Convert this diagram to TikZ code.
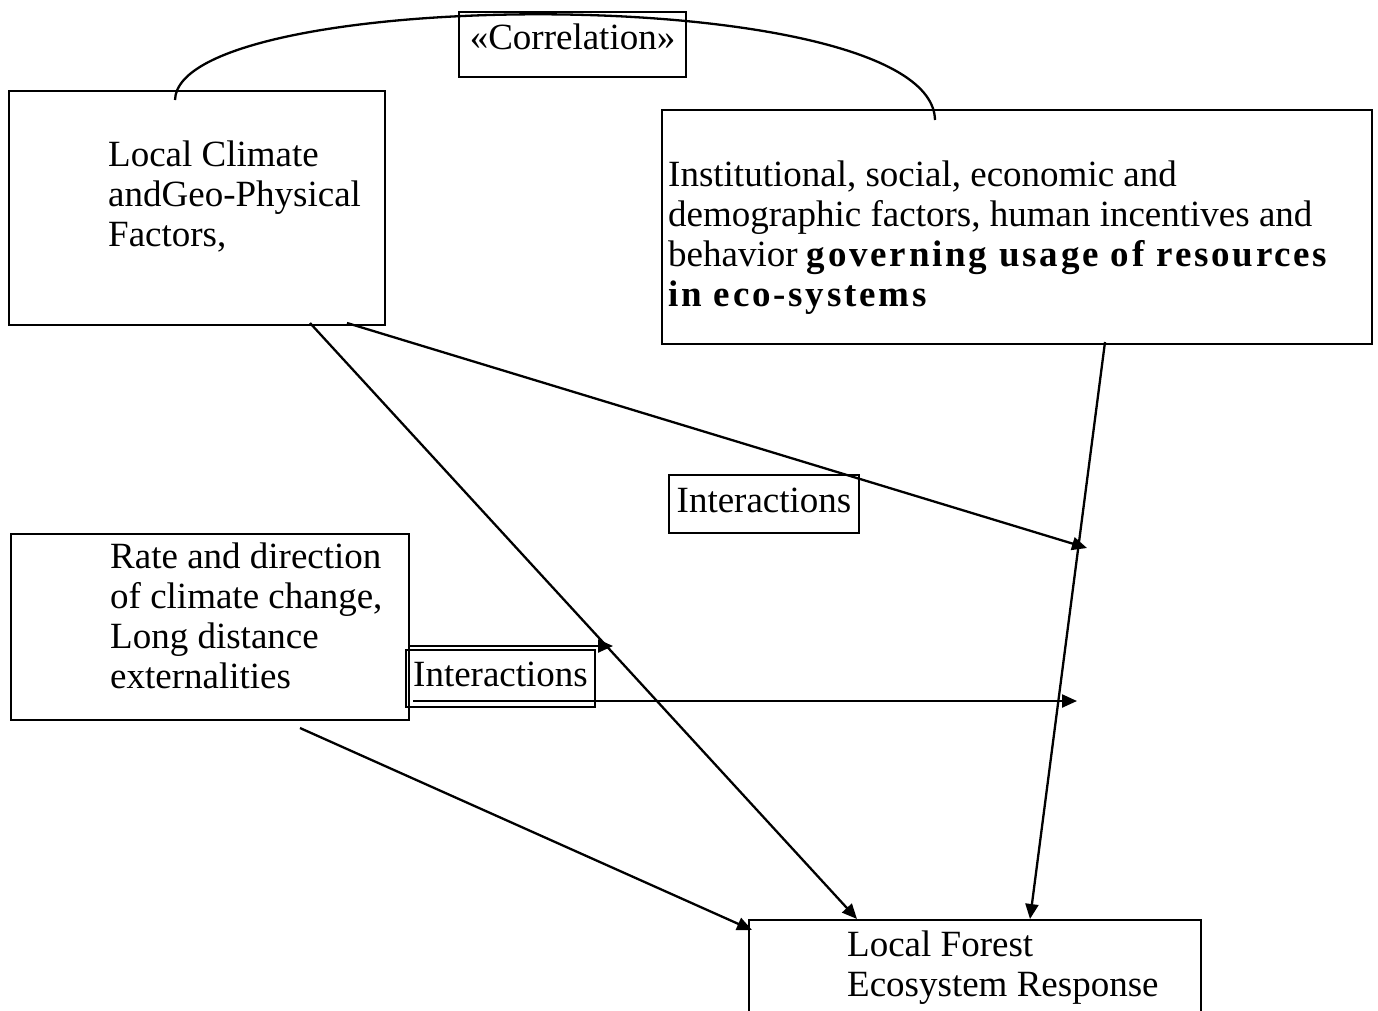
\documentclass[tikz,border=0pt]{standalone}
\usepackage{fontspec}
\setmainfont{Liberation Serif}
\usetikzlibrary{arrows.meta,calc}
\begin{document}
\begin{tikzpicture}[x=1pt,y=-1pt]
\tikzset{
 frame/.style={draw,line width=2.3pt,inner sep=0pt,outer sep=0pt},
 txt/.style={font=\fontsize{37}{40}\selectfont, align=left, inner sep=0pt, anchor=north west},
 lbl/.style={frame, font=\fontsize{37}{40}\selectfont, text height=26pt, text depth=10pt},
 conn/.style={line width=2.3pt, -{Triangle[length=15pt,width=13pt]}},
 link/.style={line width=2.3pt}
}
\clip (0,0) rectangle (1378,1010);
\fill[white] (0,0) rectangle (1378,1010);
% boxes
\node[frame, minimum width=376pt, minimum height=234pt] (clim) at (197,208) {};
\node[frame, minimum width=710pt, minimum height=234pt] (inst) at (1017,227) {};
\node[frame, minimum width=398pt, minimum height=186pt] (rate) at (210,627) {};
\node[frame, minimum width=452pt, minimum height=160pt] (forest) at (975,1000) {};
\node[lbl, minimum width=227pt, minimum height=65pt, text height=25pt, text depth=16pt] (corr) at (572.5,44.5) {«Correlation»};
\node[lbl, minimum width=190pt, minimum height=58pt] (int1) at (764,504) {Interactions};
\node[lbl, minimum width=189pt, minimum height=57pt] (int2) at (500.5,678.5) {Interactions};
% texts
\node[txt] (climtext) at (108,138) {\strut Local Climate\\\strut andGeo-Physical\\\strut Factors,};
\node[txt] (insttext) at (668,158) {\strut Institutional, social, economic and\\\strut demographic factors, human incentives and\\\strut behavior {\bfseries\addfontfeature{LetterSpace=7.5}governing usage of resources}\\\strut{\bfseries\addfontfeature{LetterSpace=7.5}in eco-systems}};
\node[txt] (ratetext) at (110,540) {\strut Rate and direction\\\strut of climate change,\\\strut Long distance\\\strut externalities};
\node[txt] (foresttext) at (847,928) {\strut Local Forest\\\strut Ecosystem Response};
% free ends
\coordinate (bEnd) at (1087,548);
\coordinate (eEnd) at (613,646);
\coordinate (fEnd) at (1077,701);
% connectors
\draw[link] ($(clim.north west)+(166,9)$) .. controls +(3,-115) and +(-3,-140) .. ($(inst.north west)+(273,10)$);
\draw[conn] ($(clim.south west)+(301,-2)$) -- ($(forest.north west)+(108,-1)$);
\draw[conn] ($(clim.south west)+(338,-2)$) -- (bEnd);
\draw[conn] ($(inst.south west)+(443,-2)$) -- ($(forest.north west)+(281,-1)$);
\draw[conn] ($(rate.south west)+(289,8)$) -- ($(forest.north west)+(3,10)$);
\draw[conn] ($(rate.east)+(0,19)$) -- (eEnd);
\draw[conn] ($(rate.east)+(4,74)$) -- (fEnd);
\end{tikzpicture}
\end{document}
